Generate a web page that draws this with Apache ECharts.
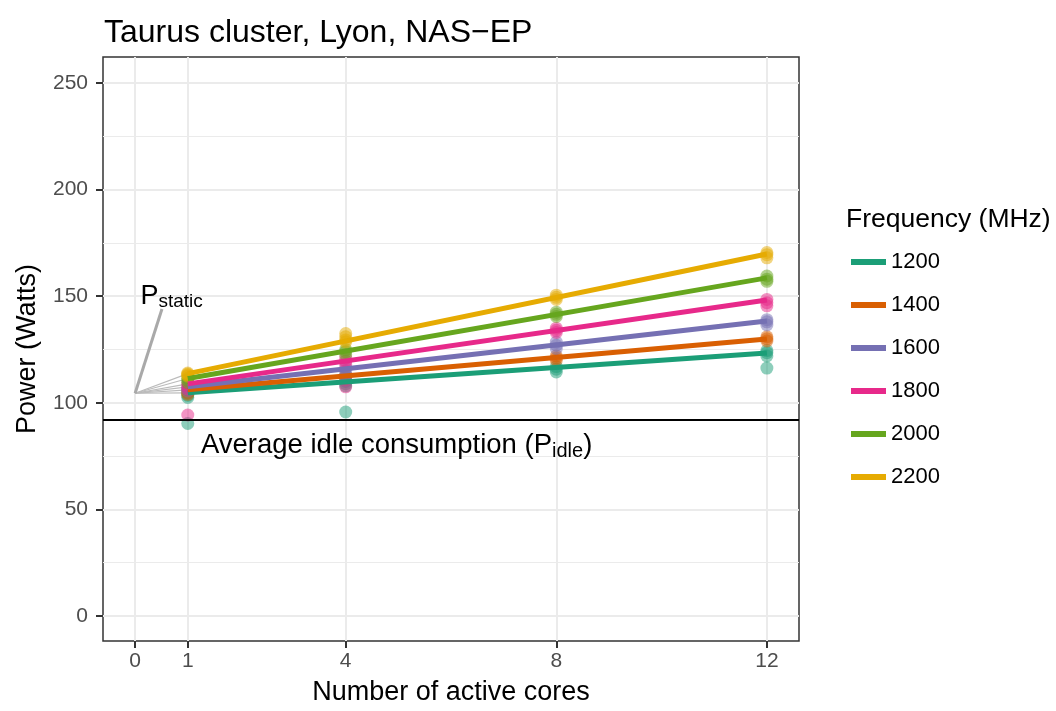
<!DOCTYPE html>
<html>
<head>
<meta charset="utf-8">
<script src="https://cdn.jsdelivr.net/npm/echarts@6/dist/echarts.min.js"></script>
<style>
  html, body { margin: 0; padding: 0; background: #fff; }
  #main { width: 1056px; height: 711px; }
</style>
</head>
<body>
<div id="main"></div>
<script>
// number of active cores where power was measured
const cores = [1, 4, 8, 12];
const freqs = ['1200', '1400', '1600', '1800', '2000', '2200'];
const colors = ['#1B9E77', '#D95F02', '#7570B3', '#E7298A', '#66A61E', '#E6AB02'];

// measured power (W), one list per core count
const power1200 = [[104.5, 103.5, 102.5, 90.3], [110, 109, 108, 95.7], [117, 115.8, 114.5], [124.5, 123.5, 122, 116.3]];
const power1400 = [[106, 105, 104], [113, 112, 111], [122, 121, 120], [131, 130, 129]];
const power1600 = [[107.5, 106.5, 105.5], [116.5, 115, 113, 110.5], [128.5, 127, 125.5], [139, 138, 136.5]];
const power1800 = [[109, 108, 106.5, 94.3], [121, 119.5, 118, 107.5], [135, 134, 133], [148.5, 147, 145.5]];
const power2000 = [[111.5, 110.5, 109.5], [125, 124, 122.5], [142.5, 141.5, 140.5], [159.5, 158, 157]];
const power2200 = [[114, 113, 112.5, 113.5], [132.5, 131, 129.5, 128.5], [150.5, 149.5, 148.5], [170.5, 169.5, 168]];
const powers = [power1200, power1400, power1600, power1800, power2000, power2200];

// fitted line ends: value at 1 core and at 12 cores
const fitStart = [104.7, 106.1, 107.5, 108.9, 111.4, 113.7];
const fitEnd = [123.4, 129.9, 138.4, 148.2, 158.6, 169.8];

const pStatic = 104.5;
const pIdle = 92;
const staticLabelAt = [0.51, 144];

const xBreaks = [0, 1, 4, 8, 12];
const yMajor = [0, 50, 100, 150, 200, 250];
const yMinor = [25, 75, 125, 175, 225];

const font = 'Liberation Sans, Arial, sans-serif';
const myChart = echarts.init(document.getElementById('main'));

const series = [];
// grid lines (drawn under everything)
series.push({
  type: 'line',
  data: [],
  silent: true,
  markLine: {
    silent: true,
    symbol: 'none',
    z: 0,
    label: { show: false },
    data: [
      ...yMinor.map(v => ({ yAxis: v, lineStyle: { color: '#ebebeb', width: 1, type: 'solid' } })),
      ...yMajor.map(v => ({ yAxis: v, lineStyle: { color: '#ebebeb', width: 2, type: 'solid' } })),
      ...xBreaks.map(v => ({ xAxis: v, lineStyle: { color: '#ebebeb', width: 2, type: 'solid' } }))
    ]
  }
});

freqs.forEach((f, k) => {
  // thin grey links to the static power point
  series.push({
    type: 'line',
    data: [[0, pStatic], [1, fitStart[k]]],
    symbol: 'none',
    silent: true,
    lineStyle: { color: '#bbbbbb', width: 1.2 },
    z: 1
  });
});

freqs.forEach((f, k) => {
  // fitted line first so the legend takes its style
  series.push({
    name: f,
    type: 'line',
    data: [[1, fitStart[k]], [12, fitEnd[k]]],
    symbol: 'none',
    lineStyle: { color: colors[k], width: 5 },
    itemStyle: { color: colors[k] },
    z: 3
  });
  const pts = [];
  cores.forEach((c, i) => powers[k][i].forEach(v => pts.push([c, v])));
  series.push({
    name: f,
    type: 'scatter',
    data: pts,
    symbolSize: 13,
    itemStyle: { color: colors[k], opacity: 0.5 },
    z: 2
  });
});

// P_static pointer + labels + idle line
series.push({
  type: 'line',
  data: [[0, pStatic], staticLabelAt],
  symbol: 'none',
  silent: true,
  lineStyle: { color: '#a9a9a9', width: 3 },
  z: 4,
  markPoint: {
    symbol: 'circle',
    symbolSize: 0,
    data: [
      {
        coord: [0.1, 150],
        label: {
          show: true, position: 'right', distance: 0,
          formatter: '{b|P}{s|static}',
          rich: {
            b: { fontSize: 27, color: '#000', fontFamily: font },
            s: { fontSize: 19, color: '#000', fontFamily: font, padding: [12, 0, 0, 0] }
          }
        }
      },
      {
        coord: [1.25, 80],
        label: {
          show: true, position: 'right', distance: 0,
          formatter: '{b|Average idle consumption (P}{s|idle}{b|)}',
          rich: {
            b: { fontSize: 27.5, color: '#000', fontFamily: font },
            s: { fontSize: 20, color: '#000', fontFamily: font, padding: [12, 0, 0, 0] }
          }
        }
      }
    ]
  },
  markLine: {
    silent: true,
    symbol: 'none',
    label: { show: false },
    data: [{ yAxis: pIdle }],
    lineStyle: { color: '#000', width: 2, type: 'solid' }
  }
});

const option = {
  animation: false,
  textStyle: { fontFamily: font },
  title: [
    {
      text: 'Taurus cluster, Lyon, NAS\u2212EP',
      left: 99, top: 12,
      textStyle: { fontSize: 32, fontWeight: 'normal', color: '#000', fontFamily: font }
    },
    {
      text: 'Frequency (MHz)',
      left: 841, top: 201,
      textStyle: { fontSize: 26.5, fontWeight: 'normal', color: '#000', fontFamily: font }
    }
  ],
  legend: {
    orient: 'vertical',
    left: 846, top: 246,
    data: freqs,
    icon: 'rect',
    itemWidth: 35, itemHeight: 6,
    itemGap: 21,
    itemStyle: { opacity: 1 },
    textStyle: { fontSize: 22, color: '#000', fontFamily: font },
    selectedMode: false
  },
  grid: {
    left: 103, right: 257, top: 57, bottom: 70,
    show: true, borderColor: '#333', borderWidth: 1.5,
    containLabel: false
  },
  xAxis: {
    type: 'value',
    min: -0.61, max: 12.61,
    name: 'Number of active cores',
    nameLocation: 'middle',
    nameGap: 38,
    nameTextStyle: { fontSize: 27, color: '#000', fontFamily: font },
    axisLine: { show: false, onZero: false },
    axisTick: { show: true, customValues: xBreaks, length: 7, lineStyle: { color: '#333', width: 2 } },
    axisLabel: { customValues: xBreaks, fontSize: 21, color: '#4d4d4d', margin: 10, fontFamily: font },
    splitLine: { show: false }
  },
  yAxis: {
    type: 'value',
    min: -11.7, max: 262.2,
    name: 'Power (Watts)',
    nameLocation: 'middle',
    nameGap: 62,
    nameTextStyle: { fontSize: 27, color: '#000', fontFamily: font },
    axisLine: { show: false, onZero: false },
    axisTick: { show: true, customValues: yMajor, length: 7, lineStyle: { color: '#333', width: 2 } },
    axisLabel: { customValues: yMajor, fontSize: 21, color: '#4d4d4d', margin: 15, fontFamily: font },
    splitLine: { show: false }
  },
  series: series
};
myChart.setOption(option);
</script>
</body>
</html>
